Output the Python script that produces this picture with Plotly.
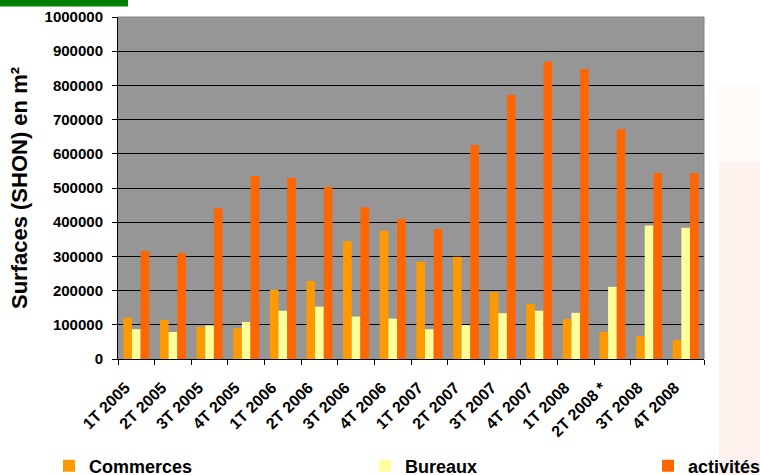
import plotly.graph_objects as go

categories = ["1T 2005", "2T 2005", "3T 2005", "4T 2005",
              "1T 2006", "2T 2006", "3T 2006", "4T 2006",
              "1T 2007", "2T 2007", "3T 2007", "4T 2007",
              "1T 2008", "2T 2008 *", "3T 2008", "4T 2008"]
commerces = [121000, 114000, 94000, 90000, 202000, 228000, 344000, 375000,
             284000, 299000, 196000, 161000, 117000, 79000, 67000, 55000]
bureaux = [87000, 79000, 98000, 108000, 141000, 153000, 124000, 118000,
           87000, 99000, 134000, 141000, 135000, 211000, 390000, 384000]
activites = [316000, 309000, 441000, 535000, 529000, 503000, 444000, 409000,
             380000, 626000, 772000, 869000, 848000, 672000, 544000, 544000]
y_ticks = [0, 100000, 200000, 300000, 400000, 500000, 600000, 700000, 800000, 900000, 1000000]

FONT = "Liberation Sans, Arial, sans-serif"

W, H = 760, 475
L, R, T, B = 118, 56, 17, 116
pw, ph = W - L - R, H - T - B


def px_x(p):
    return (p - L) / pw


def px_y(p):
    return (H - B - p) / ph


fig = go.Figure()
fig.add_bar(x=categories, y=commerces, name="Commerces",
            marker=dict(color="#FF9900", line=dict(width=0)), legend="legend")
fig.add_bar(x=categories, y=bureaux, name="Bureaux",
            marker=dict(color="#FFFF99", line=dict(width=0)), legend="legend2")
fig.add_bar(x=categories, y=activites, name="activités",
            marker=dict(color="#FF6600", line=dict(width=0)), legend="legend3")

legend_common = dict(orientation="h", yanchor="middle", xanchor="left",
                     bgcolor="rgba(0,0,0,0)", borderwidth=0,
                     font=dict(family=FONT, size=18, color="#000000", weight="bold"))

fig.update_layout(
    width=W, height=H,
    margin=dict(l=L, r=R, t=T, b=B, autoexpand=False),
    paper_bgcolor="#FFFFFF",
    plot_bgcolor="#969696",
    barmode="group",
    bargap=0.29,
    bargroupgap=0.0,
    showlegend=True,
    legend=dict(x=px_x(49), y=px_y(466), **legend_common),
    legend2=dict(x=px_x(365), y=px_y(466), **legend_common),
    legend3=dict(x=px_x(648), y=px_y(466), **legend_common),
    xaxis=dict(
        type="category",
        tickangle=-45,
        tickson="boundaries",
        ticks="outside", ticklen=5, tickcolor="#000000", tickwidth=1,
        showline=True, linecolor="#000000", linewidth=1,
        showgrid=False,
        ticklabelstandoff=12,
        ticklabelshift=-11,
        tickfont=dict(family=FONT, size=16, color="#000000", weight="bold"),
        automargin=False,
    ),
    yaxis=dict(
        range=[0, 1000000],
        tickvals=y_ticks,
        tickformat="d",
        ticks="outside", ticklen=5, tickcolor="#000000", tickwidth=1,
        showline=True, linecolor="#000000", linewidth=1,
        showgrid=True, gridcolor="#000000", gridwidth=1,
        zeroline=False,
        ticklabelstandoff=6,
        tickfont=dict(family=FONT, size=15, color="#000000", weight="bold"),
        title=dict(text="Surfaces (SHON) en m²", standoff=10,
                   font=dict(family=FONT, size=22, color="#000000", weight="bold")),
        automargin=False,
    ),
    shapes=[
        dict(type="line", xref="paper", yref="paper", x0=0, x1=1, y0=1, y1=1,
             line=dict(color="#808080", width=1)),
        dict(type="line", xref="paper", yref="paper", x0=1, x1=1, y0=0, y1=1,
             line=dict(color="#808080", width=1)),
        dict(type="rect", xref="paper", yref="paper",
             x0=px_x(0), x1=px_x(128), y0=px_y(6.5), y1=px_y(0),
             fillcolor="#008000", line=dict(width=0), layer="above"),
        dict(type="rect", xref="paper", yref="paper",
             x0=px_x(719), x1=px_x(760), y0=px_y(162), y1=px_y(85),
             fillcolor="#FFFAF8", line=dict(width=0), layer="below"),
        dict(type="rect", xref="paper", yref="paper",
             x0=px_x(719), x1=px_x(760), y0=px_y(475), y1=px_y(162),
             fillcolor="#FDF2ED", line=dict(width=0), layer="below"),
    ],
)

fig.write_html("out.html",
               config={"displayModeBar": False},
               post_script="document.body.style.margin='0';document.body.style.overflow='hidden';")
